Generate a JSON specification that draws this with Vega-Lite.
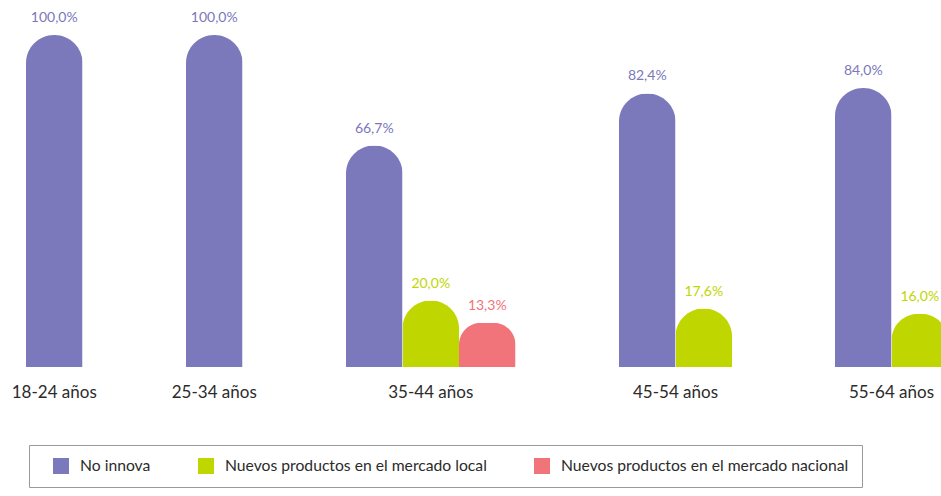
{
  "$schema": "https://vega.github.io/schema/vega-lite/v6.json",
  "background": "white",
  "padding": {"left": 11, "top": 11, "right": 0, "bottom": 0},
  "config": {
    "locale": {"number": {"decimal": ",", "thousands": ".", "grouping": [3], "currency": ["", " €"]}},
    "view": {"stroke": null},
    "font": "Lato"
  },
  "data": {
    "values": [
      {"grupo": "18-24 años", "serie": "No innova", "valor": 1.0},
      {"grupo": "25-34 años", "serie": "No innova", "valor": 1.0},
      {"grupo": "35-44 años", "serie": "No innova", "valor": 0.667},
      {"grupo": "35-44 años", "serie": "Nuevos productos en el mercado local", "valor": 0.2},
      {"grupo": "35-44 años", "serie": "Nuevos productos en el mercado nacional", "valor": 0.133},
      {"grupo": "45-54 años", "serie": "No innova", "valor": 0.824},
      {"grupo": "45-54 años", "serie": "Nuevos productos en el mercado local", "valor": 0.176},
      {"grupo": "55-64 años", "serie": "No innova", "valor": 0.84},
      {"grupo": "55-64 años", "serie": "Nuevos productos en el mercado local", "valor": 0.16}
    ]
  },
  "facet": {
    "column": {
      "field": "grupo",
      "type": "nominal",
      "sort": ["18-24 años", "25-34 años", "35-44 años", "45-54 años", "55-64 años"],
      "header": {
        "title": null,
        "labelOrient": "bottom",
        "labelFont": "Lato",
        "labelFontSize": 17,
        "labelColor": "#2b2b2b",
        "labelPadding": 18
      }
    }
  },
  "spacing": 103,
  "resolve": {"scale": {"x": "independent"}},
  "spec": {
    "width": {"step": 56.5},
    "height": 332,
    "encoding": {
      "x": {
        "field": "serie",
        "type": "nominal",
        "sort": ["No innova", "Nuevos productos en el mercado local", "Nuevos productos en el mercado nacional"],
        "axis": null,
        "scale": {"paddingInner": 0, "paddingOuter": 0}
      },
      "y": {
        "field": "valor",
        "type": "quantitative",
        "axis": null,
        "scale": {"domain": [0, 1], "nice": false}
      },
      "color": {
        "field": "serie",
        "type": "nominal",
        "scale": {
          "domain": ["No innova", "Nuevos productos en el mercado local", "Nuevos productos en el mercado nacional"],
          "range": ["#7b78bc", "#c0d600", "#f07479"]
        }
      }
    },
    "layer": [
      {
        "mark": {"type": "bar", "cornerRadiusTopLeft": 28, "cornerRadiusTopRight": 28},
        "encoding": {
          "color": {
            "field": "serie",
            "type": "nominal",
            "legend": {
              "title": null,
              "orient": "none",
              "legendX": 3,
              "legendY": 410,
              "direction": "horizontal",
              "symbolType": "square",
              "symbolSize": 256,
              "symbolStrokeWidth": 0,
              "symbolOffset": 11,
              "labelFont": "Lato",
              "labelFontSize": 15.7,
              "labelColor": "#2b2b2b",
              "labelOffset": 11,
              "columnPadding": 36,
              "padding": 13,
              "strokeColor": "#999999",
              "labelLimit": 400
            }
          }
        }
      },
      {
        "mark": {"type": "text", "baseline": "bottom", "dy": -10, "fontSize": 14, "font": "Lato"},
        "encoding": {
          "text": {"field": "valor", "type": "quantitative", "format": ".1%"}
        }
      }
    ]
  }
}
